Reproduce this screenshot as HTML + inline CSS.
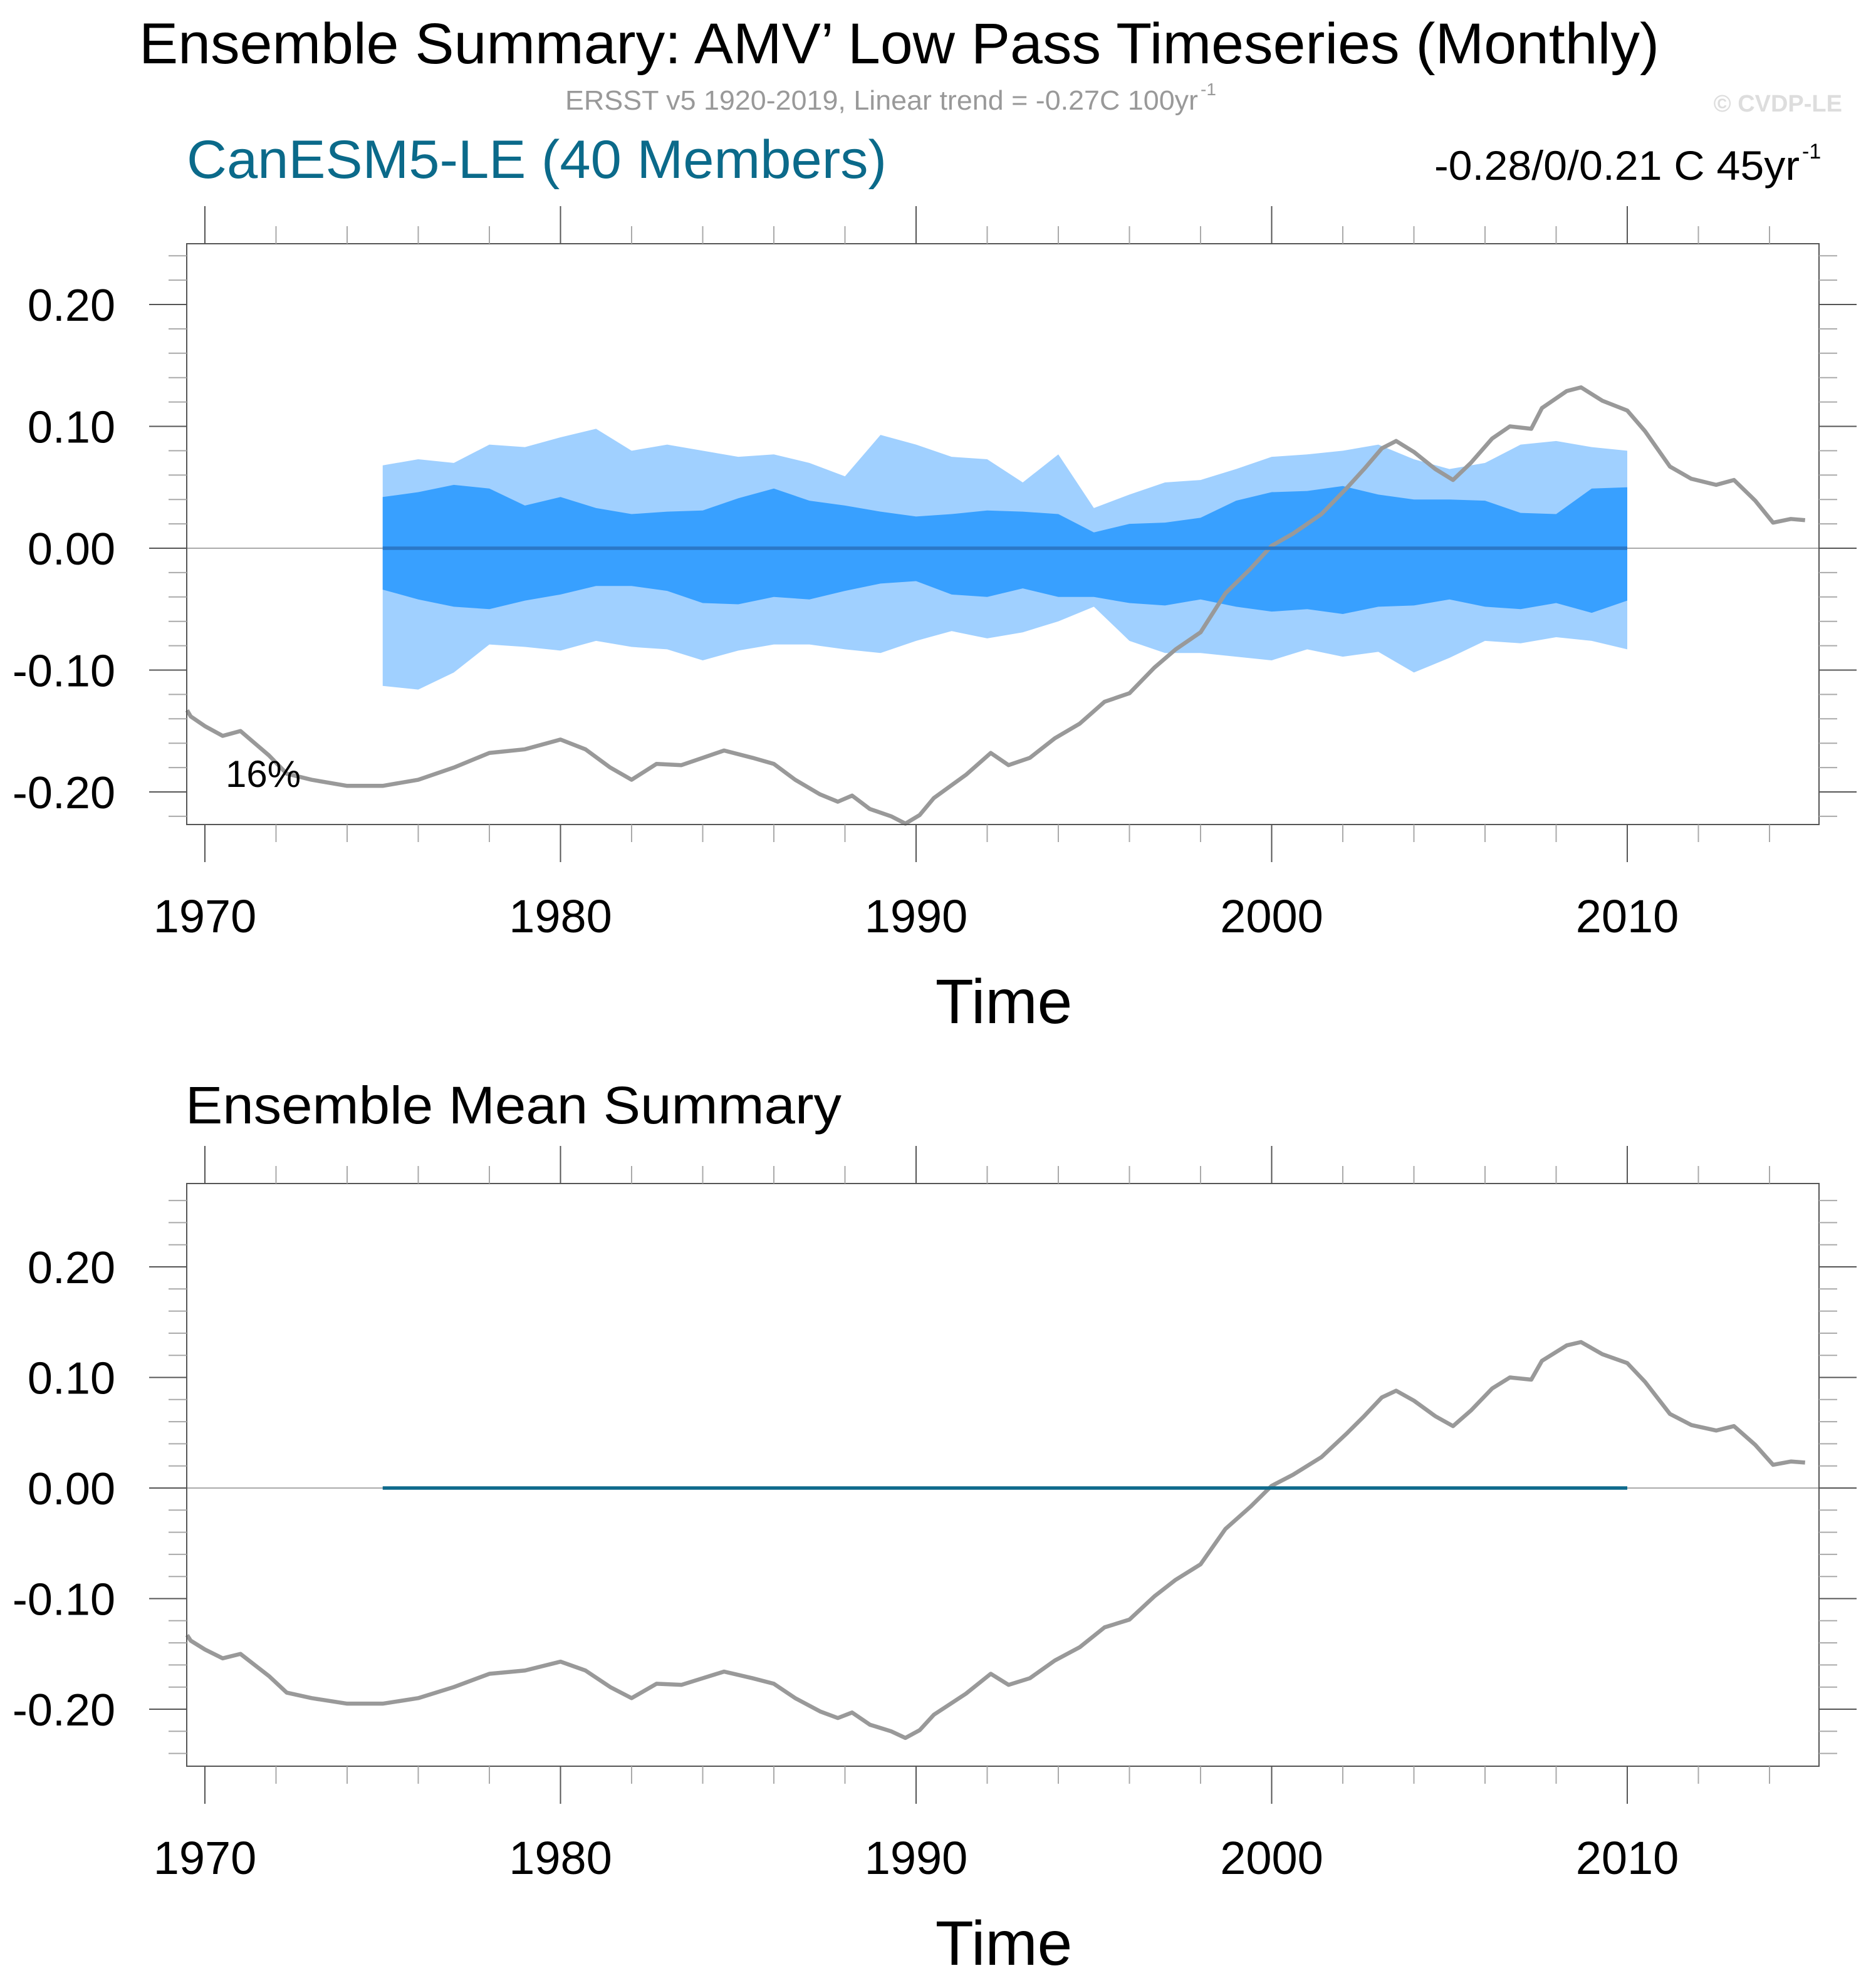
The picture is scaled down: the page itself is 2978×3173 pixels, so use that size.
<!DOCTYPE html>
<html><head><meta charset="utf-8"><style>
html,body{margin:0;padding:0;background:#fff;}
svg{display:block;font-family:"Liberation Sans",sans-serif;}
</style></head><body>
<svg id="chart" width="2978" height="3173" viewBox="0 0 2978 3173" xmlns="http://www.w3.org/2000/svg">
<text x="222" y="101" font-size="92" textLength="2426" lengthAdjust="spacingAndGlyphs" fill="#000">Ensemble Summary: AMV’ Low Pass Timeseries (Monthly)</text>
<text x="902" y="175" font-size="44" textLength="1010" lengthAdjust="spacingAndGlyphs" fill="#999">ERSST v5 1920-2019, Linear trend = -0.27C 100yr</text>
<text x="1916" y="152" font-size="28" fill="#999">-1</text>
<text x="2940" y="178" font-size="38" font-weight="bold" fill="#ddd" text-anchor="end">© CVDP-LE</text>
<text x="298" y="284" font-size="86" textLength="1117" lengthAdjust="spacingAndGlyphs" fill="#0b6a8a">CanESM5-LE (40 Members)</text>
<text x="2289" y="287" font-size="66" textLength="583" lengthAdjust="spacingAndGlyphs" fill="#000">-0.28/0/0.21 C 45yr</text>
<text x="2876" y="253" font-size="34" fill="#000">-1</text>
<text x="296" y="1793" font-size="84" textLength="1047" lengthAdjust="spacingAndGlyphs" fill="#000">Ensemble Mean Summary</text>
<g id="p1"></g>
<g id="p2"></g>
</svg>
<script>
// Observed (ERSST) AMV low-pass series
const obsYears=[1969.5,1969.6,1970,1970.5,1971,1971.4,1971.8,1972.3,1973,1974,1975,1976,1977,1978,1979,1980,1980.7,1981.4,1982,1982.7,1983.4,1984,1984.6,1985.4,1986,1986.6,1987.3,1987.8,1988.2,1988.7,1989.3,1989.7,1990.1,1990.5,1991.4,1992.1,1992.6,1993.2,1993.9,1994.6,1995.3,1996,1996.7,1997.3,1998,1998.7,1999.4,2000,2000.6,2001.4,2002.1,2002.6,2003.1,2003.5,2004,2004.6,2005.1,2005.6,2006.2,2006.7,2007.3,2007.6,2008.3,2008.7,2009.3,2010,2010.5,2011.2,2011.8,2012.5,2013,2013.6,2014.1,2014.6,2015];
const obsVals=[-0.133,-0.138,-0.146,-0.154,-0.150,-0.160,-0.170,-0.185,-0.190,-0.195,-0.195,-0.190,-0.180,-0.168,-0.165,-0.157,-0.165,-0.180,-0.190,-0.177,-0.178,-0.172,-0.166,-0.172,-0.177,-0.190,-0.202,-0.208,-0.203,-0.214,-0.220,-0.226,-0.219,-0.205,-0.186,-0.168,-0.178,-0.172,-0.156,-0.144,-0.126,-0.119,-0.098,-0.083,-0.069,-0.037,-0.017,0.002,0.012,0.028,0.049,0.065,0.082,0.088,0.079,0.065,0.056,0.070,0.090,0.100,0.098,0.115,0.129,0.132,0.121,0.113,0.096,0.067,0.057,0.052,0.056,0.039,0.021,0.024,0.023];
// Ensemble spread 1975-2010 (annual)
const bandYears=[1975,1976,1977,1978,1979,1980,1981,1982,1983,1984,1985,1986,1987,1988,1989,1990,1991,1992,1993,1994,1995,1996,1997,1998,1999,2000,2001,2002,2003,2004,2005,2006,2007,2008,2009,2010];
const outerUpper=[.068,.073,.070,.085,.083,.091,.098,.080,.085,.080,.075,.077,.070,.059,.093,.085,.075,.073,.054,.077,.033,.044,.054,.056,.065,.075,.077,.080,.085,.073,.065,.070,.085,.088,.083,.080];
const innerUpper=[.042,.046,.052,.049,.035,.042,.033,.028,.030,.031,.041,.049,.039,.035,.030,.026,.028,.031,.030,.028,.013,.020,.021,.025,.039,.046,.047,.051,.044,.040,.040,.039,.029,.028,.049,.050];
const innerLower=[-.034,-.042,-.048,-.050,-.043,-.038,-.031,-.031,-.035,-.045,-.046,-.040,-.042,-.035,-.029,-.027,-.038,-.040,-.033,-.040,-.040,-.045,-.047,-.042,-.048,-.052,-.050,-.054,-.048,-.047,-.042,-.048,-.050,-.045,-.053,-.043];
const outerLower=[-.113,-.116,-.102,-.079,-.081,-.084,-.076,-.081,-.083,-.092,-.084,-.079,-.079,-.083,-.086,-.076,-.068,-.074,-.069,-.060,-.048,-.076,-.086,-.086,-.089,-.092,-.083,-.089,-.085,-.102,-.090,-.076,-.078,-.073,-.076,-.083];
const ensMean=[0,0,0,0,0,0,0,0,0,0,0,0,0,0,0,0,0,0,0,0,0,0,0,0,0,0,0,0,0,0,0,0,0,0,0,0];
const yTickLabels=["-0.20","-0.10","0.00","0.10","0.20"];
const yTickVals=[-0.2,-0.1,0,0.1,0.2];
const xTickLabels=["1970","1980","1990","2000","2010"];
const xTickVals=[1970,1980,1990,2000,2010];

const NS="http://www.w3.org/2000/svg";
function mk(tag,attrs,parent){const e=document.createElementNS(NS,tag);for(const k in attrs)e.setAttribute(k,attrs[k]);parent.appendChild(e);return e;}
const L=298,R=2903;
const xs=y=>327+(y-1970)*56.75;

function panel(g,top,bot,y0,per01,showBands,meanColor,yMin,yMax,labelBase,timeBase){
  const ys=v=>y0-v*per01*10;
  if(showBands){
    const band=(up,lo,col,name)=>{
      let d="M"+bandYears.map((y,i)=>xs(y)+","+ys(up[i])).join(" L");
      for(let i=bandYears.length-1;i>=0;i--)d+=" L"+xs(bandYears[i])+","+ys(lo[i]);
      const p=mk("path",{d:d+"Z",fill:col},g);
      
      
    };
    band(outerUpper,outerLower,"#a0d0ff","outer-spread-band");
    band(innerUpper,innerLower,"#38a0ff","inner-spread-band");
  }
  const z=mk("line",{x1:L,x2:R,y1:ys(0),y2:ys(0),stroke:"#aaa","stroke-width":2},g);
  
  
  const obs=mk("polyline",{points:obsYears.map((y,i)=>xs(y)+","+ys(obsVals[i])).join(" "),fill:"none",stroke:"#999","stroke-width":6.5,"stroke-linejoin":"round"},g);
  
  
  const m=mk("polyline",{points:bandYears.map((y,i)=>xs(y)+","+ys(ensMean[i])).join(" "),fill:"none",stroke:meanColor,"stroke-width":5.5},g);
  
  
  const box=mk("rect",{x:L,y:top,width:R-L,height:bot-top,fill:"none",stroke:"#555","stroke-width":2},g);
  
  
  for(let k=Math.ceil(yMin*50-1e-6);k<=Math.floor(yMax*50+1e-6);k++){
    const v=k/50,maj=(k%5===0),len=maj?60:29,yy=ys(v);
    mk("line",{x1:L-len,x2:L,y1:yy,y2:yy,stroke:maj?"#555":"#aaa","stroke-width":2},g);
    mk("line",{x1:R,x2:R+len,y1:yy,y2:yy,stroke:maj?"#555":"#aaa","stroke-width":2},g);
  }
  yTickVals.forEach((v,i)=>{
    const t=mk("text",{x:184,y:ys(v)+26,"font-size":72,"text-anchor":"end",fill:"#000"},g);
    t.textContent=yTickLabels[i];
    
    
  });
  for(let y=1970;y<=2014;y+=2){
    const maj=(y%10===0),len=maj?60:28,xx=xs(y);
    mk("line",{x1:xx,x2:xx,y1:top-len,y2:top,stroke:maj?"#555":"#aaa","stroke-width":2},g);
    mk("line",{x1:xx,x2:xx,y1:bot,y2:bot+len,stroke:maj?"#555":"#aaa","stroke-width":2},g);
  }
  xTickVals.forEach((v,i)=>{
    const t=mk("text",{x:xs(v),y:labelBase,"font-size":74,"text-anchor":"middle",fill:"#000"},g);
    t.textContent=xTickLabels[i];
    
    
  });
  const tt=mk("text",{x:1602,y:timeBase,"font-size":100,"text-anchor":"middle",fill:"#000"},g);
  tt.textContent="Time";
  
  
}
const p1=document.getElementById("p1"),p2=document.getElementById("p2");
panel(p1,389,1316,875,194.5,true,"#2a78c8",-0.2267,0.25,1488,1633);
const pct=mk("text",{x:360,y:1256,"font-size":60,fill:"#000"},p1);
pct.textContent="16%";


panel(p2,1889,2819,2375,176.5,false,"#0e6a8c",-0.2516,0.275,2991,3136);
</script>
</body></html>
